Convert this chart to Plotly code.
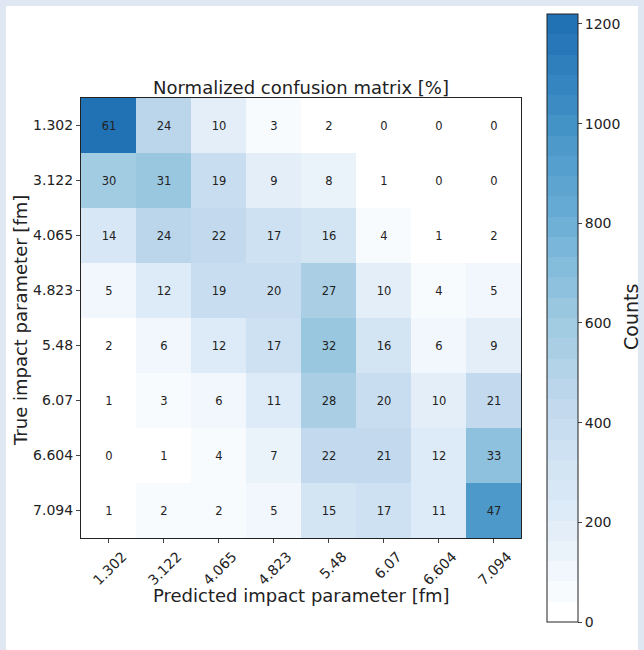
import plotly.graph_objects as go

# Impact-parameter bin centres [fm]
bins = ["1.302", "3.122", "4.065", "4.823", "5.48", "6.07", "6.604", "7.094"]

# Row-normalised confusion matrix [%] (rows: true, columns: predicted)
pct_row1 = [61, 24, 10, 3, 2, 0, 0, 0]
pct_row2 = [30, 31, 19, 9, 8, 1, 0, 0]
pct_row3 = [14, 24, 22, 17, 16, 4, 1, 2]
pct_row4 = [5, 12, 19, 20, 27, 10, 4, 5]
pct_row5 = [2, 6, 12, 17, 32, 16, 6, 9]
pct_row6 = [1, 3, 6, 11, 28, 20, 10, 21]
pct_row7 = [0, 1, 4, 7, 22, 21, 12, 33]
pct_row8 = [1, 2, 2, 5, 15, 17, 11, 47]
percentages = [pct_row1, pct_row2, pct_row3, pct_row4,
               pct_row5, pct_row6, pct_row7, pct_row8]

# Number of events in each true bin
row_totals = [2000, 2000, 2000, 2000, 2000, 2000, 2000, 2060]

counts = [[p / 100.0 * tot for p in row] for row, tot in zip(percentages, row_totals)]
zmax = max(max(r) for r in counts)

# Discretised "Blues" map (lower three quarters of the matplotlib palette)
blues = [(0.0, (255, 255, 255)), (1 / 6, (222, 235, 247)), (2 / 6, (198, 219, 239)),
         (3 / 6, (158, 202, 225)), (4 / 6, (107, 174, 214)), (5 / 6, (66, 146, 198)),
         (1.0, (33, 113, 181))]


def blues_at(t):
    for (t0, c0), (t1, c1) in zip(blues[:-1], blues[1:]):
        if t <= t1:
            f = (t - t0) / (t1 - t0)
            return tuple(round(a + (b - a) * f) for a, b in zip(c0, c1))
    return blues[-1][1]


n_levels = 30
colorscale = []
for i in range(n_levels):
    r, g, b = blues_at(i / (n_levels - 1))
    col = f"rgb({r},{g},{b})"
    colorscale.append([i / n_levels, col])
    colorscale.append([(i + 1) / n_levels, col])

FONT = "DejaVu Sans, Verdana, sans-serif"
INK = "#222222"
idx = list(range(len(bins)))

fig = go.Figure(
    go.Heatmap(
        z=counts,
        x=idx,
        y=idx,
        zmin=0,
        zmax=zmax,
        colorscale=colorscale,
        text=[[str(v) for v in row] for row in percentages],
        texttemplate="%{text}",
        textfont=dict(family=FONT, size=11.5, color=INK),
        hoverinfo="skip",
        colorbar=dict(
            x=(547 - 81) / 440,
            xanchor="left",
            xpad=0,
            y=0.5,
            yanchor="middle",
            ypad=0,
            len=608,
            lenmode="pixels",
            thickness=31,
            outlinewidth=1,
            outlinecolor=INK,
            ticks="outside",
            ticklen=4,
            tickcolor="#444444",
            tickvals=[0, 200, 400, 600, 800, 1000, 1200],
            tickfont=dict(family=FONT, size=14, color=INK),
        ),
    )
)

fig.update_layout(
    width=644,
    height=650,
    margin=dict(l=81, r=123, t=98, b=112),
    paper_bgcolor="#dfe7f2",
    plot_bgcolor="white",
    font=dict(family=FONT, color=INK),
    title=dict(
        text="Normalized confusion matrix [%]",
        x=0.5,
        xref="paper",
        xanchor="center",
        y=1 - 88 / 650,
        yref="container",
        yanchor="middle",
        font=dict(family=FONT, size=18, color=INK),
    ),
    xaxis=dict(
        tickvals=idx,
        ticktext=bins,
        tickangle=-45,
        ticklabelshift=14,
        ticks="outside",
        ticklen=4,
        tickcolor="#444444",
        tickfont=dict(family=FONT, size=14, color=INK),
        showline=True,
        linecolor=INK,
        linewidth=1,
        mirror=True,
        showgrid=False,
        zeroline=False,
        range=[-0.5, 7.5],
    ),
    yaxis=dict(
        tickvals=idx,
        ticktext=bins,
        ticks="outside",
        ticklen=4,
        tickcolor="#444444",
        tickfont=dict(family=FONT, size=14, color=INK),
        showline=True,
        linecolor=INK,
        linewidth=1,
        mirror=True,
        showgrid=False,
        zeroline=False,
        range=[7.5, -0.5],
    ),
    shapes=[
        # white card behind the figure
        dict(type="rect", xref="paper", yref="paper", layer="below",
             x0=(6 - 81) / 440, x1=(638 - 81) / 440,
             y0=(538 - 700) / 440, y1=(538 - 6) / 440,
             fillcolor="white", line=dict(width=0)),
    ],
    annotations=[
        dict(text="Predicted impact parameter [fm]", xref="paper", yref="paper",
             x=0.5, y=(538 - 595) / 440, xanchor="center", yanchor="middle",
             showarrow=False, font=dict(family=FONT, size=18, color=INK)),
        dict(text="True impact parameter [fm]", xref="paper", yref="paper",
             x=(20 - 81) / 440, y=(538 - 321) / 440, xanchor="center", yanchor="middle",
             textangle=-90, showarrow=False,
             font=dict(family=FONT, size=18, color=INK)),
        # colour-bar label
        dict(text="Counts", xref="paper", yref="paper",
             x=(631 - 81) / 440, y=(538 - 317) / 440, xanchor="center", yanchor="middle",
             textangle=-90, showarrow=False,
             font=dict(family=FONT, size=19, color=INK)),
    ],
)

fig.write_html("out.html")
